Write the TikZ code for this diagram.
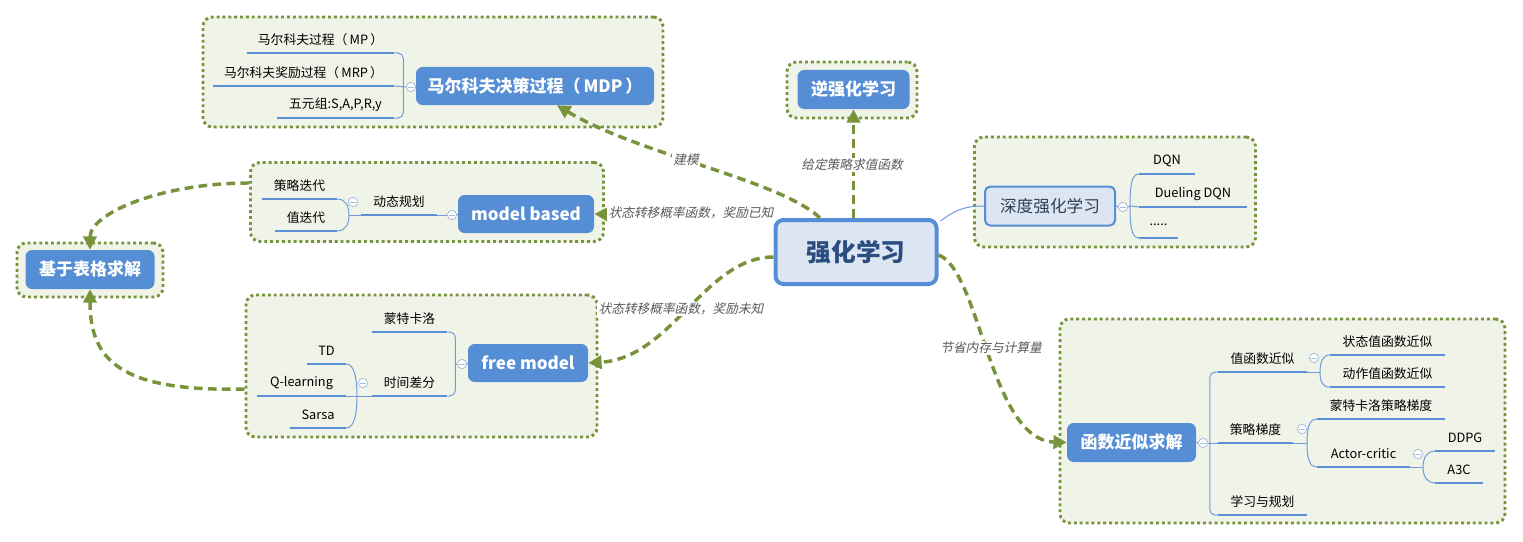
\documentclass[tikz,border=0pt]{standalone}
\usepackage{fontspec}
\setmainfont{Noto Sans CJK SC}
\newfontfamily\lblfont{Noto Sans CJK SC}[FakeSlant=0.22]
\usetikzlibrary{arrows.meta,calc}
\definecolor{nblue}{HTML}{558ED5}
\definecolor{ulblue}{HTML}{5B8FD6}
\definecolor{brblue}{HTML}{6F9BD8}
\definecolor{olivec}{HTML}{77933C}
\definecolor{grpfill}{HTML}{F0F4E8}
\definecolor{rlfill}{HTML}{DCE6F2}
\definecolor{rltext}{HTML}{2B4C7E}
\definecolor{deeptext}{HTML}{2F3D55}
\definecolor{lblgray}{HTML}{595959}
\definecolor{ccol}{HTML}{A9BCDF}
\begin{document}
\begin{tikzpicture}[x=0.75pt,y=-0.75pt,
 bx/.style 2 args={minimum width=#1*0.75pt,minimum height=#2*0.75pt},
 grp/.style={draw=olivec,fill=grpfill,line width=2.2pt,dash pattern=on 2.2pt off 2.2pt,rounded corners=7pt,inner sep=0pt},
 bluebox/.style={fill=nblue,rounded corners=5pt,text=white,inner sep=0pt,font=\bfseries\fontsize{12.75pt}{15pt}\selectfont},
 rootbox/.style={fill=rlfill,draw=nblue,line width=3pt,rounded corners=6pt,text=rltext,inner sep=0pt,font=\bfseries\fontsize{18.5pt}{21pt}\selectfont},
 deepbox/.style={fill=rlfill,draw=nblue,line width=1.5pt,rounded corners=4pt,text=deeptext,inner sep=0pt,font=\fontsize{12.5pt}{15pt}\selectfont},
 leaf/.style={font=\fontsize{9.6pt}{11.5pt}\selectfont,inner sep=0pt,anchor=south,minimum height=19.5pt,minimum width=#1*0.75pt},
 ul/.style={draw=ulblue,line width=2.2pt},
 br/.style={draw=brblue,line width=0.75pt},
 cc/.style={circle,draw=ccol,fill=white,line width=0.6pt,minimum size=7pt,inner sep=0pt,
   path picture={\draw[ccol,line width=0.6pt]([xshift=-2pt]path picture bounding box.center)--([xshift=2pt]path picture bounding box.center);}},
 conn/.style={draw=olivec,line width=2.6pt,dash pattern=on 6.5pt off 4pt,-{Triangle[length=10pt,width=10pt]}},
 lbl/.style={font=\lblfont\fontsize{9.5pt}{11pt}\selectfont,text=lblgray,fill=white,inner sep=1pt}
]
\useasboundingbox (0,0) rectangle (1523,542);

% groups
\node[grp,bx={460}{110}] (gMDP) at (433,72) {};
\node[grp,bx={130}{56}] (gInv) at (852,90) {};
\node[grp,bx={353}{79}] (gMB) at (427,202) {};
\node[grp,bx={351}{142}] (gFree) at (421.5,366) {};
\node[grp,bx={146}{54}] (gTab) at (90,270) {};
\node[grp,bx={281}{110}] (gDeep) at (1115,192) {};
\node[grp,bx={445}{204}] (gFunc) at (1282.5,421) {};

% main nodes
\node[rootbox,bx={161}{64}] (rl) at (856,252) {强化学习};
\node[bluebox,bx={238}{38}] (mdp) at (535,86) {马尔科夫决策过程（\,MDP\,）};
\node[bluebox,bx={112}{39}] (inv) at (853.5,89.5) {逆强化学习};
\node[bluebox,bx={136}{38}] (mb) at (526,214) {model based};
\node[bluebox,bx={120}{38}] (free) at (528,363) {free model};
\node[bluebox,bx={129}{39}] (tab) at (90,269.5) {基于表格求解};
\node[deepbox,bx={130}{39}] (deep) at (1050,206) {深度强化学习};
\node[bluebox,bx={129}{39}] (func) at (1131.5,442.5) {函数近似求解};

% leaves
\node[leaf=147] (mp) at (320.5,53) {马尔科夫过程（\,MP\,）};
\node[leaf=181] (mrp) at (303.5,86) {马尔科夫奖励过程（\,MRP\,）};
\node[leaf=117] (five) at (335.5,118) {五元组:S,A,P,R,y};
\node[leaf=75] (clyd) at (299.5,199) {策略迭代};
\node[leaf=62] (zdd) at (306,231) {值迭代};
\node[leaf=76] (dtgh) at (399,215) {动态规划};
\node[leaf=75] (mtkl) at (409.5,332) {蒙特卡洛};
\node[leaf=75] (sjcf) at (409.5,396) {时间差分};
\node[leaf=39] (td) at (326.5,364) {TD};
\node[leaf=89] (ql) at (301.5,396) {Q-learning};
\node[leaf=56] (sarsa) at (318,428) {Sarsa};
\node[leaf=56] (dqn) at (1167,174) {DQN};
\node[leaf=108] (ddqn) at (1193,207) {Dueling DQN};
\node[leaf=39] (dots) at (1158.5,238) {.....};
\node[leaf=89] (vfa) at (1262.5,372) {值函数近似};
\node[leaf=75] (pg) at (1255.5,443) {策略梯度};
\node[leaf=89] (lp) at (1262.5,515) {学习与规划};
\node[leaf=115] (sv) at (1387.5,355) {状态值函数近似};
\node[leaf=115] (av) at (1387.5,387) {动作值函数近似};
\node[leaf=128] (mc) at (1381,419) {蒙特卡洛策略梯度};
\node[leaf=93] (ac) at (1363.5,467) {Actor-critic};
\node[leaf=60] (ddpg) at (1465,451) {DDPG};
\node[leaf=48] (a3c) at (1459,483) {A3C};

\foreach \n in {mp,mrp,five,clyd,zdd,dtgh,mtkl,sjcf,td,ql,sarsa,dqn,ddqn,dots,vfa,pg,lp,sv,av,mc,ac,ddpg,a3c}
  \draw[ul] (\n.south west) -- (\n.south east);

% junctions
\coordinate (jb) at (349,215);
\coordinate (jt) at (357,396);
\coordinate (jd) at (1130,206);
\coordinate (jv) at (1320,372);
\coordinate (jp) at (1307,443);
\coordinate (ja) at (1423,467);

% brackets
\draw[br,rounded corners=4pt] (mp.south east) -- ++(9,0) |- (five.south east);
\draw[br] (clyd.south east) .. controls +(9,0) and +(0,-8) .. (jb) .. controls +(0,8) and +(9,0) .. (zdd.south east);
\draw[br] (jb) -- (dtgh.south west);
\draw[br,rounded corners=4pt] (mtkl.south east) -- ++(8,0) |- (sjcf.south east);
\draw[br] (td.south east) .. controls +(9,0) and +(0,-14) .. (jt) .. controls +(0,14) and +(9,0) .. (sarsa.south east);
\draw[br] (ql.south east) -- (sjcf.south west);
\draw[br] (jd) .. controls +(0,-16) and +(-8,0) .. (dqn.south west);
\draw[br] (jd) .. controls +(0,16) and +(-8,0) .. (dots.south west);
\draw[br] (jd) -- (ddqn.south west);
\draw[br,rounded corners=4pt] (vfa.south west) -- ++(-8,0) |- (lp.south west);
\draw[br] (vfa.south east) -- (jv);
\draw[br] (jv) .. controls +(0,-10) and +(-7,0) .. (sv.south west);
\draw[br] (jv) .. controls +(0,10) and +(-7,0) .. (av.south west);
\draw[br] (pg.south east) -- (jp);
\draw[br] (jp) .. controls +(0,-16) and +(-7,0) .. (mc.south west);
\draw[br] (jp) .. controls +(0,16) and +(-7,0) .. (ac.south west);
\draw[br] (ac.south east) -- (ja);
\draw[br] (ja) .. controls +(0,-10) and +(-7,0) .. (ddpg.south west);
\draw[br] (ja) .. controls +(0,10) and +(-7,0) .. (a3c.south west);

% collapse circles
\node[cc] (c1) at (411,87) {};
\node[cc] (c2) at (452,215) {};
\node[cc] (c3) at (353,202) {};
\node[cc] (c4) at (462,364) {};
\node[cc] (c5) at (363,383) {};
\node[cc] (c6) at (1123,207) {};
\node[cc] (c7) at (1203,443) {};
\node[cc] (c8) at (1314,358) {};
\node[cc] (c9) at (1302,429) {};
\node[cc] (c10) at (1418,454) {};
\draw[br] (mrp.south east) -- (c1.west);
\draw[br] (c1.east) -- (mdp.west);
\draw[br] (dtgh.south east) -- (c2.west);
\draw[br] (c2.east) -- (mb.west);
\coordinate (jf) at (455,364);
\draw[br] (jf) -- (c4.west);
\draw[br] (c4.east) -- (free.west);
\draw[br] (deep.east) -- (c6.west);
\draw[br] (c6.east) -- (jd);
\draw[br] (func.east) -- (c7.west);
\draw[br] (c7.east) -- (pg.south west);

% thin connector to deep RL
\draw[br] ($(rl.north east)+(2,3)$) .. controls +(16,-12) and +(-18,0) .. (deep.west);

% connectors
\draw[conn] ($(rl.north)+(-36,0)$) .. controls (780,180) and (640,155) .. ($(mdp.south)+(22,0)$);
\draw[conn] (rl.north -| inv.south) -- (inv.south);
\draw[conn] ($(rl.west)+(0,5)$) .. controls (705,257) and (672,358) .. (free.east);
\draw[conn] (rl.north west) -- (mb.east);
\draw[conn] ($(gMB.west)+(0,-19)$) .. controls (162,183) and (90,213) .. (tab.north);
\draw[conn] ($(gFree.west)+(0,23)$) .. controls (120,392) and (90,360) .. (tab.south);
\draw[conn] ($(rl.east)+(0,3)$) .. controls (980,270) and (990,440) .. (func.west);

% labels
\node[lbl] (l1) at (686,160) {建模};
\node[lbl] (l2) at (852,165) {给定策略求值函数};
\node[lbl] (l3) at (691,213) {状态转移概率函数，奖励已知};
\node[lbl] (l4) at (681,309) {状态转移概率函数，奖励未知};
\node[lbl] (l5) at (991,348) {节省内存与计算量};
\end{tikzpicture}
\end{document}
